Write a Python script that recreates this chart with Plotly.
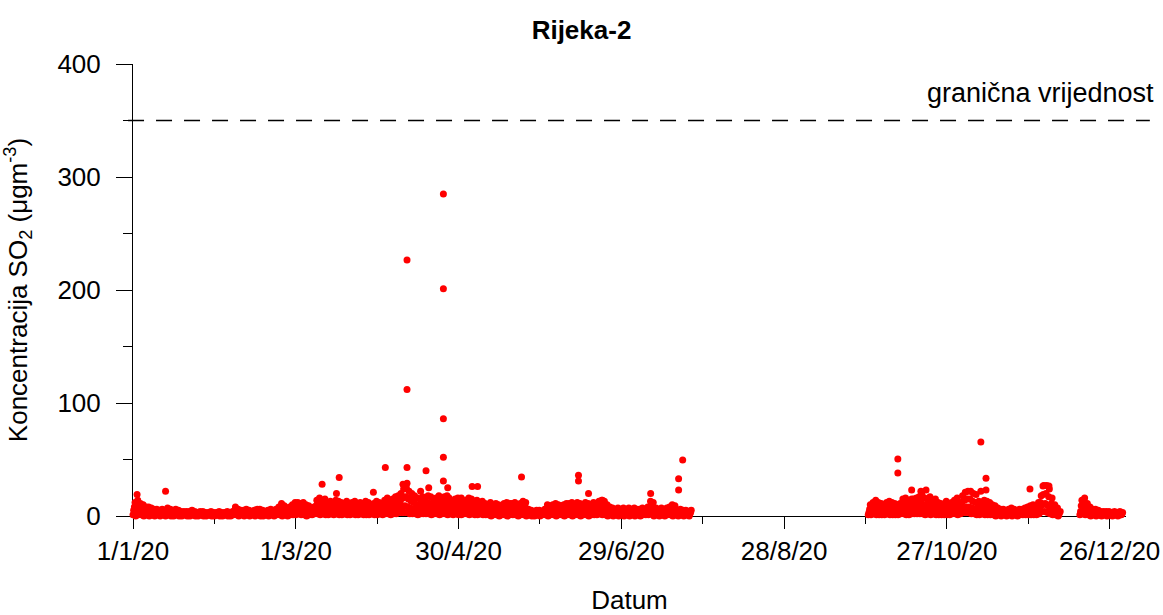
import pandas as pd
import plotly.graph_objects as go

# ---------------- data ----------------
# Segment 1: 2020-01-01 .. 2020-07-24 (daily readings of the hourly band: low, lower-mid, upper-mid, top)
seg1_start = "2020-01-01"
seg1_lo = [1,0,1,1,0,1,0,1,0,1, 0,1,0,1,0,0,1,0,0,1, 0,0,1,0,0,1,0,0,1,0, 0,1,0,0,1,0,0,1,1,0,
           1,0,1,0,1,0,1,0,0,1, 0,1,0,1,1,0,1,0,1,1, 1,2,1,1,0,1,1,2,2,1, 2,1,1,2,1,2,1,1,2,1,
           1,2,1,1,2,1,1,1,2,1, 1,2,1,2,2,1,2,2,3,3, 3,3,2,2,2,1,2,2,2,2, 1,2,2,1,2,2,1,2,1,2,
           1,1,2,2,1,2,1,1,2,1, 1,1,0,1,1,0,1,1,0,1, 1,1,0,1,1,0,1,0,0,1, 0,1,1,0,1,1,0,1,1,0,
           1,1,0,1,1,0,1,1,0,1, 1,1,2,1,1,0,1,0,1,0, 1,0,1,0,1,0,1,0,1,1, 1,2,0,1,0,1,0,1,1,0,
           1,0,1,0,1,0]
seg1_m1 = [5,5,4,4,3,3,3,2,2,2, 2,2,2,2,2,2,2,1,1,1, 1,2,1,1,1,1,1,1,1,1, 1,1,1,1,1,1,1,3,2,2,
           2,2,2,1,2,2,2,2,1,2, 2,2,2,3,4,3,2,3,3,4, 4,4,4,3,3,2,3,5,5,4, 5,4,4,4,5,4,4,4,4,3,
           4,4,3,4,4,4,4,3,4,4, 4,4,5,5,5,5,6,6,7,8, 9,8,7,6,5,5,6,5,6,6, 5,5,6,5,6,6,5,4,5,5,
           4,4,5,5,5,4,5,4,4,4, 3,4,3,4,3,3,4,4,3,4, 4,3,4,4,4,2,2,1,2,2, 1,2,3,3,3,4,3,3,3,4,
           4,4,3,4,4,3,4,4,3,4, 4,4,5,4,3,3,2,2,2,2, 2,2,2,2,2,2,2,2,2,3, 4,4,2,2,2,2,2,3,3,3,
           2,2,2,2,1,2]
seg1_m2 = [8,9,7,6,5,5,4,4,4,3, 4,3,4,4,3,4,3,3,3,3, 3,3,3,2,3,3,2,2,3,2, 2,3,2,2,3,2,3,5,4,3,
           3,4,3,3,3,4,4,3,3,3, 4,3,4,5,7,6,5,5,6,8, 8,7,8,6,6,5,5,9,10,8, 10,7,8,8,9,8,8,7,8,6,
           8,8,6,8,7,8,8,6,7,8, 8,7,9,10,9,10,11,12,13,16, 17,15,13,12,10,10,11,10,12,11, 10,10,12,10,11,12,9,8,10,10,
           8,8,9,10,10,8,9,8,8,7, 6,8,6,7,6,6,7,8,6,7, 8,6,7,8,8,4,3,3,3,3, 3,4,6,6,6,7,6,6,6,7,
           7,8,6,8,7,6,8,7,6,8, 7,8,9,8,6,5,4,4,4,4, 4,4,4,4,4,4,4,4,4,5, 8,8,4,4,4,4,4,5,6,6,
           3,4,3,3,3,3]
seg1_hi = [12,14,11,10,8,8,7,6,6,5, 6,5,7,6,5,6,5,4,4,4, 4,5,4,3,4,4,3,3,4,3, 3,4,3,3,4,3,4,8,6,5,
           5,6,5,4,5,6,6,5,4,5, 6,5,6,8,11,9,7,8,10,12, 12,11,12,10,9,7,8,14,16,12, 15,11,13,12,14,13,12,11,13,10,
           12,13,10,12,11,13,12,10,11,13, 12,11,14,16,14,15,17,18,20,24, 25,22,20,18,16,15,17,16,18,17, 15,16,18,16,17,18,14,13,15,16,
           13,12,14,16,15,13,14,12,13,11, 10,12,9,11,10,9,11,12,10,11, 12,10,11,13,12,6,5,4,5,5, 4,6,10,9,10,11,10,9,10,11,
           11,12,10,12,11,10,12,11,10,12, 11,13,14,13,10,8,7,6,7,6, 7,6,7,6,7,6,6,7,6,8, 13,12,7,6,7,6,7,8,10,9,
           5,6,5,5,4,5]

# Segment 2: 2020-09-28 .. 2020-12-07
seg2_start = "2020-09-28"
seg2_lo = [1,1,2,1,1,1,1,2,1,1, 1,1,2,2,1,1,2,2,2,2, 2,1,2,1,2,1,1,1,1,1, 1,2,2,1,2,3,3,3,2,2,
           1,1,2,1,1,1,1,0,1,0, 1,0,1,0,1,0,1,1,1,1, 1,1,1,2,4,4,3,2,1,1,0]
seg2_m1 = [3,4,5,4,4,3,4,4,4,4, 3,4,5,5,4,4,5,5,6,6, 5,5,6,5,5,4,4,3,4,4, 4,5,5,4,6,7,8,8,7,6,
           4,4,5,4,4,3,3,2,2,2, 2,2,2,2,2,2,2,2,3,3, 3,3,4,6,10,11,9,6,3,2,1]
seg2_m2 = [6,8,9,8,7,6,8,8,8,7, 6,7,9,10,8,7,9,10,11,12, 10,9,11,9,9,8,7,6,8,7, 8,9,10,8,12,14,15,15,13,12,
           8,8,9,8,8,6,6,4,4,4, 3,4,4,4,3,4,4,4,5,6, 6,6,8,12,19,20,17,11,6,4,3]
seg2_hi = [10,12,14,12,11,10,12,13,12,11, 10,11,15,16,12,11,15,16,17,19, 16,15,17,14,15,12,11,10,13,11,
           12,14,16,12,18,21,22,22,20,19, 13,12,14,13,12,10,9,7,6,6, 5,6,7,6,5,6,6,7,8,9,
           10,9,12,18,27,27,24,16,10,7,4]

# Segment 3: 2020-12-15 .. 2020-12-30
seg3_start = "2020-12-15"
seg3_lo = [1,2,1,1,0,1,0,1,0,1,0,1,0,1,0,1]
seg3_m1 = [4,5,4,3,2,2,2,1,1,1,1,1,1,1,1,1]
seg3_m2 = [9,10,7,5,4,4,3,3,2,3,2,2,3,2,2,2]
seg3_hi = [14,16,11,8,6,6,5,4,4,4,4,3,4,3,4,3]

# isolated high hourly values (day of year counted from 1 Jan 2020, value in µg/m3)
outlier_day = [1.5, 12, 69.7, 75, 76, 88.6, 93, 99.5, 101, 101, 101, 101, 102.5, 106, 108, 109,
               114.4, 114.4, 114.4, 114.4, 114.4, 116, 116.5, 121, 125, 127, 139, 143.2, 164.2, 164.2,
               167.9, 173, 190.8, 201.1, 201.1, 202.6, 281.9, 281.9, 287, 287, 290.4, 292.3, 312.5,
               314.4, 312.5, 314.4, 330.6, 335.4, 337.6]
outlier_val = [19, 22, 28, 20, 34, 21, 43, 28, 29, 43, 112, 226.5, 17, 22, 40, 25,
               52, 86, 201, 285, 31, 25, 16, 16, 26, 26, 11, 34.5, 36, 31,
               20, 14, 20, 23, 33, 49.5, 50.5, 38, 23, 15, 22, 23, 65.5,
               33.5, 22, 23, 24, 26.5, 26.5]

limit_value = 350
limit_label = "granična vrijednost"

tick_vals = ["2020-01-01", "2020-03-01", "2020-04-30", "2020-06-29", "2020-08-28", "2020-10-27", "2020-12-26"]
tick_text = ["1/1/20", "1/3/20", "30/4/20", "29/6/20", "28/8/20", "27/10/20", "26/12/20"]

# ---------------- build points ----------------
xs, ys = [], []
for start, arrays in [(seg1_start, [seg1_lo, seg1_m1, seg1_m2, seg1_hi]),
                      (seg2_start, [seg2_lo, seg2_m1, seg2_m2, seg2_hi]),
                      (seg3_start, [seg3_lo, seg3_m1, seg3_m2, seg3_hi])]:
    for hour, arr in zip([0, 6, 12, 18], arrays):
        days = pd.date_range(start, periods=len(arr), freq="D") + pd.Timedelta(hours=hour)
        xs.extend(days)
        ys.extend(arr)

out_x = pd.Timestamp("2020-01-01") + pd.to_timedelta(outlier_day, unit="D")
xs.extend(out_x)
ys.extend(outlier_val)

FONT = "Liberation Sans, Arial, sans-serif"
FS = 26

fig = go.Figure()
fig.add_trace(go.Scatter(
    x=xs, y=ys, mode="markers",
    marker=dict(color="#ff0000", size=7, line=dict(width=0)),
    cliponaxis=False, showlegend=False, hoverinfo="x+y",
))

fig.add_shape(type="line", xref="paper", yref="y", x0=-0.005, x1=1.024,
              y0=limit_value, y1=limit_value,
              line=dict(color="black", width=1.5, dash="16px,12px"))
fig.add_annotation(text=limit_label, xref="paper", yref="y", x=1.030, y=374,
                   xanchor="right", yanchor="middle", showarrow=False,
                   font=dict(family=FONT, size=27, color="black"))

fig.update_layout(
    width=1163, height=615,
    margin=dict(l=133, r=37, t=64, b=99, autoexpand=False),
    paper_bgcolor="white", plot_bgcolor="white",
    font=dict(family=FONT, size=FS, color="black"),
    title=dict(text="<b>Rijeka-2</b>", x=0.5, xanchor="center", xref="container",
               y=1 - 30 / 615, yref="container", yanchor="middle",
               font=dict(family=FONT, size=FS, color="black")),
)
fig.update_xaxes(
    type="date", range=["2020-01-01", "2021-01-01"],
    tickmode="array", tickvals=tick_vals, ticktext=tick_text,
    ticks="outside", ticklen=12, tickwidth=1, tickcolor="black",
    minor=dict(dtick=30 * 86400000, tick0="2020-01-01", ticks="outside", ticklen=7,
               tickcolor="black", tickwidth=1, showgrid=False),
    showline=True, linecolor="black", linewidth=1,
    showgrid=False, zeroline=False, layer="below traces",
    ticklabelstandoff=0, automargin=False,
    title=dict(text="Datum", standoff=29, font=dict(family=FONT, size=FS)),
    tickfont=dict(family=FONT, size=FS),
)
fig.update_yaxes(
    range=[0, 400], dtick=100, tick0=0,
    ticks="outside", ticklen=16, tickwidth=1, tickcolor="black",
    minor=dict(dtick=50, ticks="outside", ticklen=9, tickcolor="black", tickwidth=1, showgrid=False),
    showline=True, linecolor="black", linewidth=1,
    showgrid=False, zeroline=False, layer="below traces",
    ticklabelstandoff=10, automargin=False,
    title=dict(text="Koncentracija SO<sub>2</sub> (μgm<sup>-3</sup>)", standoff=23,
               font=dict(family=FONT, size=FS)),
    tickfont=dict(family=FONT, size=FS),
)

# remove the browser's default 8px body margin so the figure fills the 1163x615 window exactly
fig.write_html("out.html", config={"displayModeBar": False},
               post_script="document.body.style.margin='0';document.body.style.overflow='hidden';")
